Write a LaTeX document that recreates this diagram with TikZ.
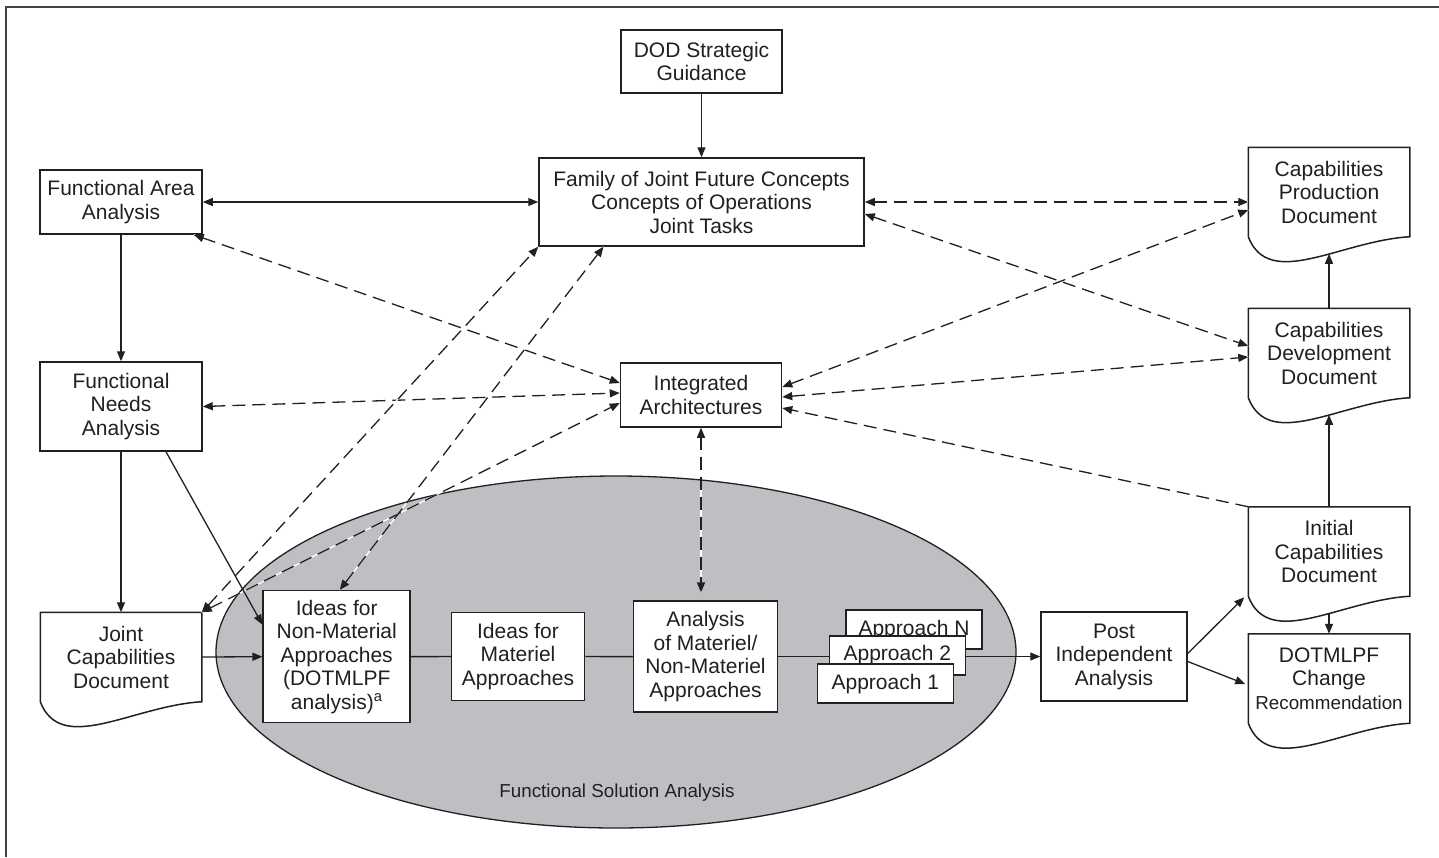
\documentclass[tikz,border=0pt]{standalone}
\usepackage{fontspec}
\setmainfont{Liberation Sans}
\usetikzlibrary{arrows.meta,calc}
\definecolor{ink}{RGB}{35,31,32}
\definecolor{fsagray}{RGB}{190,191,195}
\newcommand{\smallerfont}{\fontsize{18.8}{23.5}\selectfont}

\tikzset{every picture/.style={line width=1.3pt}}
\tikzset{
  box/.style={draw=ink, line width=1.5pt, fill=white, inner sep=0pt, align=center, text=ink, font=\fontsize{21}{23.5}\selectfont},
  docbox/.style={box, draw=none, minimum width=160pt, minimum height=88pt},
  lbl/.style={text=ink, inner sep=0pt, font=\smallerfont},
  link/.style={draw=ink, ->},
  dlink/.style={draw=ink, <->, dash pattern=on 13pt off 7pt, preaction={draw=white, solid, arrows=-}},
  frameline/.style={draw=ink!85, line width=2pt},
}

\begin{document}
\begin{tikzpicture}[x=1pt,y=1pt,yscale=-1,>={Triangle[length=10pt,width=8pt]}]
\useasboundingbox (0,0) rectangle (1439,857);

%Frame
\draw [frameline] (1439,7) -- (6,7) -- (6,857);

%Shape: Ellipse
\filldraw [fill=fsagray, draw=ink] (616,652) ellipse [x radius=400, y radius=176];
% Text Node
\node [lbl] (fsa) at (617,793) {Functional Solution Analysis};

%Shape: Rectangle
\node [box, minimum width=161pt, minimum height=63pt] (dod) at (701.5,61.5) {DOD Strategic\\Guidance};
\node [box, minimum width=325pt, minimum height=88pt] (fam) at (701.5,202) {Family of Joint Future Concepts\\Concepts of Operations\\Joint Tasks};
\node [box, minimum width=162pt, minimum height=64pt] (faa) at (121,202) {Functional Area\\Analysis};
\node [box, minimum width=162pt, minimum height=89pt] (fna) at (121,406.5) {Functional\\Needs\\Analysis};
\node [box, minimum width=161pt, minimum height=64pt] (ia) at (701,395) {Integrated\\Architectures};
\node [box, minimum width=147pt, minimum height=132pt] (ina) at (336.7,656.7) {Ideas for\\Non-Material\\Approaches\\(DOTMLPF\\analysis)\textsuperscript{a}};
\node [box, minimum width=133pt, minimum height=88pt] (ima) at (518,656.5) {Ideas for\\Materiel\\Approaches};
\node [box, minimum width=144pt, minimum height=111pt] (ana) at (705.5,656.7) {Analysis\\of Materiel/\\Non-Materiel\\Approaches};
\node [box, minimum width=136pt, minimum height=39pt] (apN) at (914,629.7) {Approach N};
\node [box, minimum width=136pt, minimum height=39pt] (ap2) at (897.3,655.5) {Approach 2};
\node [box, minimum width=136pt, minimum height=39pt] (ap1) at (885.3,683.7) {Approach 1};
\node [box, minimum width=146pt, minimum height=89pt] (pia) at (1114,656.5) {Post\\Independent\\Analysis};

%Shape: Document
\node [docbox] (cpd) at (1329,192) {Capabilities\\Production\\Document};
\node [docbox] (cdd) at (1329,353) {Capabilities\\Development\\Document};
\node [docbox] (icd) at (1329,551.5) {Initial\\Capabilities\\Document};
\node [docbox] (dcr) at (1329,678.5) {DOTMLPF\\Change\\{\smallerfont Recommendation}};
\node [docbox] (jcd) at (121,657) {Joint\\Capabilities\\Document};
\foreach \n in {cpd,cdd,icd,dcr,jcd}{
  \draw [draw=ink, line width=1.5pt] (\n.south west) -- (\n.north west) -- (\n.north east) -- (\n.south east) .. controls ($(\n.south east)+(-69,4)$) and ($(\n.south west)+(21,54)$) .. (\n.south west);
  \coordinate (\n-w) at ($(\n.south)+(0,17)$);
}

%Dashed Lines
\draw [dlink] (fam.east) -- (cpd.west |- fam.east);
\draw [dlink] ($(fam.east)+(0,12)$) -- ($(cdd.west)+(0,-7)$);
\draw [dlink] ($(ia.east)+(0,-8)$) -- ($(cpd.west)+(0,18)$);
\draw [dlink] ($(ia.east)+(0,2)$) -- ($(cdd.west)+(0,4)$);
\draw [dlink, ->] (icd.north west) -- ($(ia.east)+(0,13)$);
\draw [dlink] ($(faa.south east)+(-9,0)$) -- ($(ia.west)+(0,-12)$);
\draw [dlink] (fna.east) -- ($(ia.west)+(0,-2)$);
\draw [dlink] (jcd.north east) -- ($(ia.west)+(0,8)$);
\draw [dlink] (jcd.north east) -- (fam.south west);
\draw [dlink] ($(ina.north)+(3,0)$) -- ($(fam.south)+(-98,0)$);
\draw [dlink] (ia.south) -- ($(ia.south |- ana.north)+(0,-8)$);

%Straight Lines
\draw [link] (dod) -- (fam);
\draw [link, <->] (faa) -- (fam);
\draw [link] (faa) -- (fna);
\draw [link] (fna) -- (jcd);
\draw [link] ($(fna.south)+(45,0)$) -- ($(ina.west)+(0,-32)$);
\draw [link] (jcd.east) -- (ina.west);
\draw [draw=ink] (ina) -- (ima);
\draw [draw=ink] (ima) -- (ana);
\draw [draw=ink] (ana.east) -- (ap2.west |- ana.east);
\draw [link] (ap2.east |- pia.west) -- (pia.west);
\draw [link] ($(pia.east)+(0,-3)$) -- ($(icd.south west)+(-4,1)$);
\draw [link] ($(pia.east)+(0,5)$) -- ($(dcr.west)+(-3,5.5)$);
\draw [link] (icd-w) -- (dcr.north);
\draw [link] (icd.north) -- (cdd-w);
\draw [link] (cdd.north) -- (cpd-w);

\end{tikzpicture}
\end{document}
